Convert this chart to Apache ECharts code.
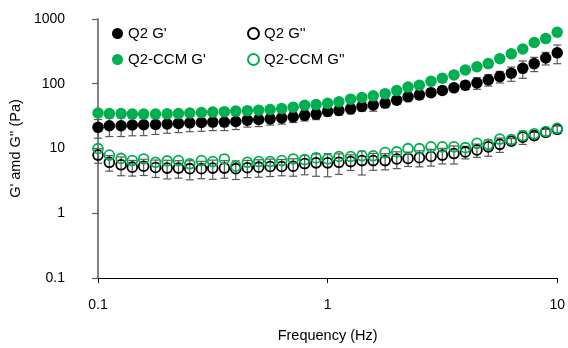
<!DOCTYPE html>
<html>
<head>
<meta charset="utf-8">
<script src="https://cdn.jsdelivr.net/npm/echarts@6/dist/echarts.min.js"></script>
<style>
html, body { margin: 0; padding: 0; background: #fff; }
#chart { width: 568px; height: 348px; }
</style>
</head>
<body>
<div id="chart"></div>
<script>
// frequency (Hz), 20 points per decade
var freq = [0.1, 0.112, 0.126, 0.141, 0.158, 0.178, 0.2, 0.224, 0.251, 0.282,
    0.316, 0.355, 0.398, 0.447, 0.501, 0.562, 0.631, 0.708, 0.794, 0.891,
    1, 1.12, 1.26, 1.41, 1.58, 1.78, 2, 2.24, 2.51, 2.82,
    3.16, 3.55, 3.98, 4.47, 5.01, 5.62, 6.31, 7.08, 7.94, 8.91, 10];

// Q2 G' and its error
var q2Gp = [21.2, 22.5, 22.5, 23.1, 23.3, 23.5, 23.9, 24.4, 24.9, 25.2,
    25.6, 25.6, 26.1, 27.4, 28.0, 28.7, 29.7, 30.7, 32.5, 34.0,
    37.4, 38.7, 40.9, 44.5, 47.0, 50.3, 55.8, 62.8, 67.2, 72.8,
    78.8, 86.5, 95, 103, 115, 129, 145, 173, 205, 250, 300];
var q2GpErr = [6.8, 7.2, 7.2, 7.4, 7.5, 7.0, 6.7, 6.8, 6.7, 6.8,
    6.7, 6.7, 6.5, 6.0, 6.2, 5.7, 5.9, 5.5, 5.9, 6.1,
    5.6, 5.8, 6.5, 6.7, 9.4, 7.5, 6.7, 6.3, 10, 8.7,
    9.5, 10.4, 14, 21, 23, 26, 36, 52, 51, 55, 96];

// Q2 G'' and its error
var q2Gpp = [7.91, 6.12, 5.60, 5.15, 5.33, 5.10, 4.98, 4.98, 4.88, 4.88,
    4.98, 4.98, 4.88, 5.05, 5.15, 5.27, 5.27, 5.33, 5.86, 6.00,
    6.00, 6.12, 6.28, 6.50, 6.50, 6.50, 6.89, 7.03, 7.21, 7.53,
    7.91, 8.36, 8.86, 9.50, 10.6, 11.6, 12.96, 15.0, 15.8, 17.7, 19.8];
var q2GppErr = [2.0, 1.65, 1.8, 1.4, 1.5, 1.53, 1.6, 1.5, 1.6, 1.46,
    1.64, 1.5, 1.56, 1.5, 1.55, 1.58, 1.48, 1.6, 1.93, 2.28,
    2.34, 2.14, 1.7, 2.6, 1.9, 1.82, 2.0, 1.76, 2.0, 2.18,
    2.14, 2.6, 1.95, 2.2, 3.0, 2.9, 1.3, 3.45, 1.9, 2.1, 2.4];

// Q2-CCM G' / G''
var ccmGp = [35.3, 34.6, 34.6, 34.0, 34.0, 34.0, 34.3, 34.6, 35.3, 35.9,
    36.5, 37.1, 37.8, 38.4, 39.1, 40.0, 41.5, 43.5, 46.5, 47.6,
    49.8, 52.8, 57.8, 61.2, 65.0, 70.3, 78.8, 88.7, 95.0, 109,
    122, 137, 163, 183, 205, 244, 290, 344, 434, 498, 625];
var ccmGpp = [9.95, 7.91, 7.03, 6.50, 6.89, 6.12, 6.43, 6.50, 5.80, 6.50,
    6.28, 6.89, 5.33, 6.12, 6.28, 6.28, 6.50, 6.89, 6.73, 7.16,
    6.89, 7.53, 7.53, 7.72, 7.72, 8.65, 8.86, 9.95, 9.95, 10.6,
    10.6, 10.6, 10.3, 12.0, 11.6, 14.0, 13.7, 15.8, 16.9, 18.3, 20.5];

var GREEN = '#00b050';
var FONT = 'Liberation Sans, Arial, sans-serif';

function pts(ys) {
    return freq.map(function (f, i) { return [f, ys[i]]; });
}
function bars(ys, err) {
    return freq.map(function (f, i) { return [f, ys[i] - err[i], ys[i] + err[i]]; });
}
function errorBars(name, ys, err) {
    return {
        type: 'custom',
        name: name + ' err',
        silent: true,
        z: 1,
        encode: { x: 0, y: [1, 2] },
        data: bars(ys, err),
        renderItem: function (params, api) {
            var lo = api.coord([api.value(0), api.value(1)]);
            var hi = api.coord([api.value(0), api.value(2)]);
            var w = 4;
            var st = { stroke: '#595959', lineWidth: 1.2 };
            return {
                type: 'group',
                children: [
                    { type: 'line', shape: { x1: lo[0], y1: lo[1], x2: hi[0], y2: hi[1] }, style: st },
                    { type: 'line', shape: { x1: lo[0] - w, y1: lo[1], x2: lo[0] + w, y2: lo[1] }, style: st },
                    { type: 'line', shape: { x1: hi[0] - w, y1: hi[1], x2: hi[0] + w, y2: hi[1] }, style: st }
                ]
            };
        }
    };
}
function filled(name, ys, color, z) {
    return {
        type: 'scatter', name: name, data: pts(ys), symbol: 'circle', symbolSize: 11.5, z: z,
        itemStyle: { color: color, opacity: 1 }
    };
}
function open(name, ys, color, z) {
    return {
        type: 'scatter', name: name, data: pts(ys), symbol: 'circle', symbolSize: 9.8, z: z,
        itemStyle: { color: 'rgba(0,0,0,0)', borderColor: color, borderWidth: 1.8, opacity: 1 }
    };
}
function leg(name, left, top) {
    return {
        data: [name], left: left, top: top, padding: 0, itemWidth: 11, itemHeight: 11,
        itemGap: 0, selectedMode: false,
        textStyle: { fontFamily: FONT, fontSize: 15, color: '#000' }
    };
}
function fmt(v) { return String(parseFloat(Number(v).toPrecision(6))); }

var chart = echarts.init(document.getElementById('chart'));
chart.setOption({
    animation: false,
    backgroundColor: '#fff',
    // right margin trimmed so that 10 Hz lands at x≈562
    grid: { left: 95, right: 2.3, top: 19, bottom: 62 },
    legend: [
        leg("Q2 G'", 112, 26),
        leg("Q2 G''", 247, 26),
        leg("Q2-CCM G'", 112, 52),
        leg("Q2-CCM G''", 247, 52)
    ],
    xAxis: {
        type: 'log', logBase: 10, min: 0.1, max: 10,
        name: 'Frequency (Hz)', nameLocation: 'middle', nameGap: 50,
        nameTextStyle: { fontFamily: FONT, fontSize: 14.5, color: '#000' },
        axisLine: { lineStyle: { color: '#000', width: 1.2 } },
        axisTick: { show: true, length: 5, lineStyle: { color: '#000' } },
        minorTick: { show: false },
        splitLine: { show: false },
        axisLabel: { fontFamily: FONT, fontSize: 14, color: '#000', margin: 20, formatter: fmt }
    },
    yAxis: {
        type: 'log', logBase: 10, min: 0.1, max: 1000,
        name: "G' amd G'' (Pa)", nameLocation: 'middle', nameGap: 68, nameRotate: 90,
        nameTextStyle: { fontFamily: FONT, fontSize: 14.5, color: '#000' },
        axisLine: { lineStyle: { color: '#595959', width: 1.5 } },
        axisTick: { show: true, length: 6, lineStyle: { color: '#595959', width: 1.2 } },
        minorTick: { show: false },
        splitLine: { show: false },
        axisLabel: { fontFamily: FONT, fontSize: 14, color: '#000', margin: 33, formatter: fmt }
    },
    series: [
        errorBars("Q2 G'", q2Gp, q2GpErr),
        filled("Q2 G'", q2Gp, '#000', 2),
        errorBars("Q2 G''", q2Gpp, q2GppErr),
        open("Q2 G''", q2Gpp, '#000', 3),
        filled("Q2-CCM G'", ccmGp, GREEN, 4),
        open("Q2-CCM G''", ccmGpp, GREEN, 5)
    ]
});
</script>
</body>
</html>
